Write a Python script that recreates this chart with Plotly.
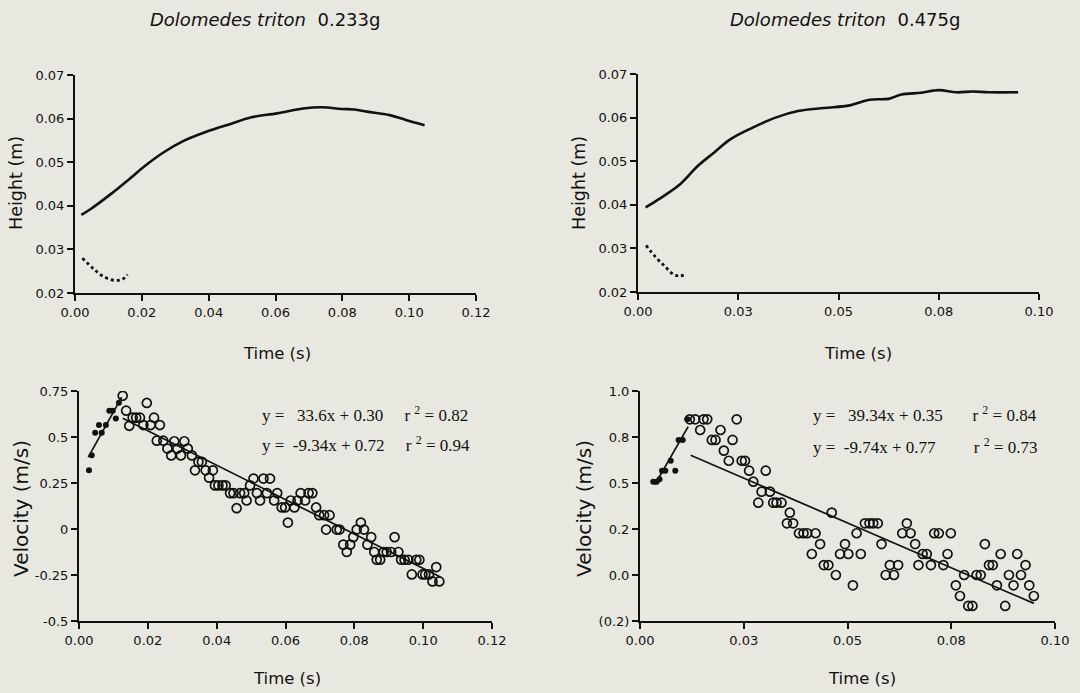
import plotly.graph_objects as go

W, H = 1080, 693
BG = "#e8e8e0"
INK = "#111111"
SANS = "DejaVu Sans"
SERIF = "Liberation Serif"

# ---- Height traces, 0.233 g spider ----
h1_t = [0.0019, 0.0046, 0.0104, 0.0162, 0.0210, 0.0268, 0.0325, 0.0393, 0.0470, 0.0528,
        0.0605, 0.0682, 0.0740, 0.0797, 0.0836, 0.0874, 0.0942, 0.0990, 0.1046]
h1_body = [0.0379, 0.0392, 0.0425, 0.0461, 0.0492, 0.0524, 0.0549, 0.0570, 0.0589, 0.0603,
           0.0612, 0.0623, 0.0626, 0.0622, 0.0621, 0.0616, 0.0608, 0.0597, 0.0585]
h1_leg_t = [0.0022, 0.0056, 0.0085, 0.0118, 0.0143, 0.0157]
h1_leg = [0.0280, 0.0255, 0.0238, 0.0229, 0.0232, 0.0242]

# ---- Height traces, 0.475 g spider ----
h2_t = [0.0019, 0.0052, 0.0101, 0.0149, 0.0190, 0.0230, 0.0286, 0.0343, 0.0399, 0.0464,
        0.0528, 0.0577, 0.0625, 0.0657, 0.0706, 0.0750, 0.0794, 0.0835, 0.0875, 0.0948]
h2_body = [0.0394, 0.0413, 0.0444, 0.0489, 0.0520, 0.0550, 0.0577, 0.0600, 0.0615, 0.0622,
           0.0628, 0.0641, 0.0643, 0.0653, 0.0657, 0.0663, 0.0658, 0.0660, 0.0658, 0.0658]
h2_leg_t = [0.0020, 0.0044, 0.0069, 0.0089, 0.0105, 0.0119]
h2_leg = [0.0307, 0.0280, 0.0257, 0.0240, 0.0237, 0.0240]

# ---- Velocity, 0.233 g ----
v1_fast_t = [0.0029, 0.0037, 0.0047, 0.0058, 0.0066, 0.0078, 0.0088, 0.0098, 0.0107, 0.0116]
v1_fast = [0.319, 0.401, 0.523, 0.565, 0.523, 0.565, 0.643, 0.643, 0.601, 0.686]
v1_slow_t = [0.0127, 0.0137, 0.0146, 0.0156, 0.0166, 0.0177, 0.0187, 0.0197, 0.0208, 0.0218,
             0.0226, 0.0235, 0.0245, 0.0257, 0.0268, 0.0277, 0.0286, 0.0296, 0.0306, 0.0316,
             0.0328, 0.0337, 0.0347, 0.0357, 0.0368, 0.0378, 0.0389, 0.0395, 0.0405, 0.0417,
             0.0426, 0.0439, 0.0449, 0.0458, 0.0468, 0.0480, 0.0487, 0.0497, 0.0507, 0.0517,
             0.0526, 0.0536, 0.0546, 0.0555, 0.0567, 0.0576, 0.0589, 0.0599, 0.0607, 0.0615,
             0.0626, 0.0635, 0.0644, 0.0657, 0.0667, 0.0678, 0.0689, 0.0698, 0.0712, 0.0728,
             0.0718, 0.0749, 0.0757, 0.0768, 0.0778, 0.0788, 0.0797, 0.0807, 0.0819, 0.0828,
             0.0838, 0.0849, 0.0858, 0.0865, 0.0875, 0.0885, 0.0894, 0.0907, 0.0917, 0.0928,
             0.0936, 0.0946, 0.0957, 0.0967, 0.0980, 0.0989, 0.0998, 0.1006, 0.1017, 0.1027,
             0.1038, 0.1047]
v1_slow = [0.724, 0.643, 0.561, 0.605, 0.605, 0.605, 0.565, 0.685, 0.565, 0.605,
           0.480, 0.565, 0.480, 0.437, 0.400, 0.477, 0.437, 0.400, 0.477, 0.437,
           0.400, 0.319, 0.365, 0.365, 0.319, 0.279, 0.319, 0.237, 0.237, 0.237,
           0.237, 0.195, 0.195, 0.113, 0.195, 0.195, 0.155, 0.237, 0.274, 0.195,
           0.155, 0.274, 0.195, 0.274, 0.155, 0.195, 0.117, 0.117, 0.035, 0.155,
           0.117, 0.155, 0.195, 0.155, 0.195, 0.195, 0.117, 0.075, 0.075, 0.075,
           -0.003, -0.003, -0.003, -0.085, -0.125, -0.085, -0.044, -0.003, 0.035, -0.003,
           -0.085, -0.044, -0.125, -0.167, -0.167, -0.125, -0.125, -0.125, -0.044, -0.125,
           -0.167, -0.167, -0.167, -0.247, -0.167, -0.167, -0.247, -0.247, -0.247, -0.285,
           -0.207, -0.285]

# ---- Velocity, 0.475 g ----
v2_fast_t = [0.0032, 0.0040, 0.0047, 0.0053, 0.0061, 0.0074, 0.0085, 0.0093, 0.0103, 0.0114]
v2_fast = [0.507, 0.507, 0.520, 0.567, 0.567, 0.621, 0.567, 0.734, 0.734, 0.846]
v2_slow_t = [0.0120, 0.0133, 0.0145, 0.0153, 0.0162, 0.0173, 0.0182, 0.0194, 0.0202, 0.0214,
             0.0223, 0.0233, 0.0245, 0.0253, 0.0263, 0.0273, 0.0285, 0.0293, 0.0303, 0.0313,
             0.0321, 0.0329, 0.0341, 0.0354, 0.0361, 0.0369, 0.0383, 0.0394, 0.0403, 0.0414,
             0.0423, 0.0434, 0.0443, 0.0454, 0.0462, 0.0472, 0.0482, 0.0494, 0.0502, 0.0513,
             0.0522, 0.0532, 0.0542, 0.0553, 0.0562, 0.0573, 0.0582, 0.0592, 0.0602, 0.0612,
             0.0622, 0.0632, 0.0643, 0.0652, 0.0663, 0.0671, 0.0681, 0.0691, 0.0701, 0.0709,
             0.0720, 0.0731, 0.0741, 0.0749, 0.0761, 0.0771, 0.0781, 0.0791, 0.0801, 0.0811,
             0.0821, 0.0831, 0.0841, 0.0850, 0.0860, 0.0869, 0.0880, 0.0889, 0.0900, 0.0909,
             0.0918, 0.0929, 0.0938, 0.0949]
v2_slow = [0.846, 0.846, 0.788, 0.846, 0.846, 0.734, 0.734, 0.788, 0.676, 0.621,
           0.734, 0.846, 0.621, 0.621, 0.567, 0.507, 0.393, 0.453, 0.567, 0.453,
           0.393, 0.393, 0.393, 0.281, 0.339, 0.281, 0.227, 0.227, 0.227, 0.114,
           0.227, 0.168, 0.054, 0.054, 0.339, 0.000, 0.114, 0.168, 0.114, -0.056,
           0.227, 0.114, 0.281, 0.281, 0.281, 0.281, 0.168, 0.000, 0.054, 0.000,
           0.054, 0.227, 0.281, 0.227, 0.168, 0.054, 0.114, 0.114, 0.054, 0.227,
           0.227, 0.054, 0.114, 0.227, -0.056, -0.114, 0.000, -0.168, -0.168, 0.000,
           0.000, 0.168, 0.054, 0.054, -0.056, 0.114, -0.168, 0.000, -0.056, 0.114,
           0.000, 0.054, -0.056, -0.114]

# ---- Linear fits: slope, intercept, r^2 and time span of each fitted line ----
fit1_fast = dict(m=33.6, b=0.30, r2=0.82, span=[0.0027, 0.0124])
fit1_slow = dict(m=-9.34, b=0.72, r2=0.94, span=[0.0127, 0.1050])
fit2_fast = dict(m=39.34, b=0.35, r2=0.84, span=[0.0036, 0.0116])
fit2_slow = dict(m=-9.74, b=0.77, r2=0.73, span=[0.0122, 0.0949])

# ---- Axis ticks ----
x1_ticks = [0.0, 0.02, 0.04, 0.06, 0.08, 0.10, 0.12]
x1_text = ["0.00", "0.02", "0.04", "0.06", "0.08", "0.10", "0.12"]
x2_ticks = [0.0, 0.025, 0.05, 0.075, 0.10]
x2_text = ["0.00", "0.03", "0.05", "0.08", "0.10"]
h_ticks = [0.02, 0.03, 0.04, 0.05, 0.06, 0.07]
h_text = ["0.02", "0.03", "0.04", "0.05", "0.06", "0.07"]
v1_ticks = [-0.5, -0.25, 0.0, 0.25, 0.5, 0.75]
v1_text = ["-0.5", "-0.25", "0", "0.25", "0.5", "0.75"]
v2_ticks = [-0.25, 0.0, 0.25, 0.5, 0.75, 1.0]
v2_text = ["(0.2)", "0.0", "0.2", "0.5", "0.8", "1.0"]


def px_x(p):
    return p / W


def px_y(p):
    return 1 - p / H


fig = go.Figure()

# panel boxes in pixels: (left, right, top, bottom)
panels = {
    1: (75, 476, 75, 293),
    2: (638, 1039, 74, 292),
    3: (79, 492, 391, 621),
    4: (640, 1055, 391, 621),
}


def add_height(k, t, body, leg_t, leg):
    fig.add_trace(go.Scatter(x=t, y=body, mode="lines", line=dict(color=INK, width=2.6, shape="spline"),
                             xaxis=f"x{k}", yaxis=f"y{k}", showlegend=False))
    fig.add_trace(go.Scatter(x=leg_t, y=leg, mode="lines",
                             line=dict(color=INK, width=2.8, dash="dot", shape="spline"),
                             xaxis=f"x{k}", yaxis=f"y{k}", showlegend=False))


def add_velocity(k, ft, fv, st, sv, fast, slow):
    for fit in (fast, slow):
        xs = fit["span"]
        ys = [fit["m"] * x + fit["b"] for x in xs]
        fig.add_trace(go.Scatter(x=xs, y=ys, mode="lines", line=dict(color=INK, width=1.7),
                                 xaxis=f"x{k}", yaxis=f"y{k}", showlegend=False))
    fig.add_trace(go.Scatter(x=st, y=sv, mode="markers",
                             marker=dict(symbol="circle-open", size=9, color=INK, line=dict(width=1.7)),
                             xaxis=f"x{k}", yaxis=f"y{k}", showlegend=False))
    fig.add_trace(go.Scatter(x=ft, y=fv, mode="markers",
                             marker=dict(symbol="circle", size=6, color=INK),
                             xaxis=f"x{k}", yaxis=f"y{k}", showlegend=False))


add_height(1, h1_t, h1_body, h1_leg_t, h1_leg)
add_height(2, h2_t, h2_body, h2_leg_t, h2_leg)
add_velocity(3, v1_fast_t, v1_fast, v1_slow_t, v1_slow, fit1_fast, fit1_slow)
add_velocity(4, v2_fast_t, v2_fast, v2_slow_t, v2_slow, fit2_fast, fit2_slow)

axis_common = dict(showgrid=False, zeroline=False, showline=True, linecolor=INK, linewidth=2,
                   ticks="outside", ticklen=6, tickwidth=1.6, tickcolor=INK, automargin=False,
                   tickfont=dict(family=SANS, size=13, color=INK), fixedrange=True)

xcfg = {1: (x1_ticks, x1_text, [0, 0.12]), 2: (x2_ticks, x2_text, [0, 0.10]),
        3: (x1_ticks, x1_text, [0, 0.12]), 4: (x2_ticks, x2_text, [0, 0.10])}
ycfg = {1: (h_ticks, h_text, [0.02, 0.07]), 2: (h_ticks, h_text, [0.02, 0.07]),
        3: (v1_ticks, v1_text, [-0.5, 0.75]), 4: (v2_ticks, v2_text, [-0.25, 1.0])}

layout_axes = {}
for k, (l, r, t, b) in panels.items():
    xt, xtxt, xr = xcfg[k]
    yt, ytxt, yr = ycfg[k]
    layout_axes[f"xaxis{k}"] = dict(axis_common, domain=[px_x(l), px_x(r)], range=xr,
                                    tickvals=xt, ticktext=xtxt, anchor=f"y{k}")
    layout_axes[f"yaxis{k}"] = dict(axis_common, domain=[px_y(b), px_y(t)], range=yr,
                                    tickvals=yt, ticktext=ytxt, anchor=f"x{k}")
fig.update_layout(**layout_axes)

ann = []


def label(text, x, y, size, rot=0, family=SANS, xanchor="center"):
    ann.append(dict(text=text, x=px_x(x), y=px_y(y), xref="paper", yref="paper",
                    showarrow=False, textangle=rot, xanchor=xanchor, yanchor="middle",
                    font=dict(family=family, size=size, color=INK)))


NB = "\u00a0"
# panel titles
label(f"<i>Dolomedes triton</i>{NB}{NB}0.233g", 265, 20, 18)
label(f"<i>Dolomedes triton</i>{NB}{NB}0.475g", 845, 20, 18)
# axis titles
label("Time (s)", 277, 353, 16.5)
label("Time (s)", 858, 353, 16.5)
label("Time (s)", 287, 678, 16.5)
label("Time (s)", 862, 678, 16.5)
label("Height (m)", 16, 183, 17.5, rot=-90)
label("Height (m)", 579, 183, 17.5, rot=-90)
label("Velocity (m/s)", 21, 509, 20, rot=-90)
label("Velocity (m/s)", 584, 509, 20, rot=-90)


def fit_line(fit, slope_fmt, lead, gap):
    slope = format(fit["m"], slope_fmt)
    return (f"y ={NB * lead}{slope}x + {fit['b']:.2f}{NB * gap}"
            f"r{NB}<sup>2</sup>{NB}= {fit['r2']:.2f}")


# fitted-line equations, one line per fit
label(fit_line(fit1_fast, ".1f", 3, 5), 260, 414, 17, family=SERIF, xanchor="left")
label(fit_line(fit1_slow, ".2f", 2, 5), 260, 444, 17, family=SERIF, xanchor="left")
label(fit_line(fit2_fast, ".2f", 3, 7), 811, 414, 17, family=SERIF, xanchor="left")
label(fit_line(fit2_slow, ".2f", 2, 9), 811, 446, 17, family=SERIF, xanchor="left")

fig.update_layout(width=W, height=H, margin=dict(l=0, r=0, t=0, b=0),
                  paper_bgcolor=BG, plot_bgcolor=BG, annotations=ann, showlegend=False)

fig.write_html("out.html", config=dict(displayModeBar=False))
